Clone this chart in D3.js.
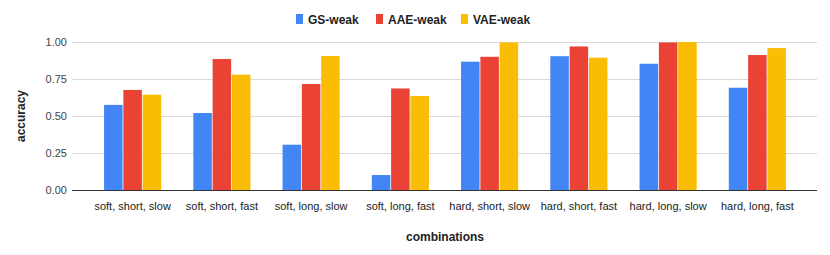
<!DOCTYPE html>
<html>
<head>
<meta charset="utf-8">
<script src="https://cdn.jsdelivr.net/npm/d3@7"></script>
<style>
  body { margin: 0; background: #fff; }
  text { font-family: "Liberation Sans", Arial, sans-serif; }
</style>
</head>
<body>
<svg id="chart" width="830" height="255"></svg>
<script>
// data
var categories = ["soft, short, slow", "soft, short, fast", "soft, long, slow", "soft, long, fast",
                  "hard, short, slow", "hard, short, fast", "hard, long, slow", "hard, long, fast"];
var seriesNames = ["GS-weak", "AAE-weak", "VAE-weak"];
var gsWeak  = [0.575, 0.52, 0.306, 0.101, 0.867, 0.904, 0.853, 0.691];
var aaeWeak = [0.676, 0.885, 0.716, 0.686, 0.90, 0.970, 0.997, 0.912];
var vaeWeak = [0.644, 0.779, 0.905, 0.635, 0.997, 0.894, 1.0, 0.959];
var yTicks = [0, 0.25, 0.5, 0.75, 1.0];
var colors = ["#4285F4", "#EA4335", "#FBBC04"];

var series = [gsWeak, aaeWeak, vaeWeak];
var svg = d3.select("#chart");

var plotTop = 42, plotBottom = 190, gridLeft = 72, gridRight = 817;

var x0 = d3.scaleBand().domain(categories).range([88, 802]).paddingInner(0.36).paddingOuter(0.18);
var x1 = d3.scaleBand().domain(d3.range(3)).range([0, x0.bandwidth()]).paddingInner(0.04);
var y = d3.scaleLinear().domain([0, 1]).range([plotBottom, plotTop]);

// gridlines
svg.append("g").selectAll("line").data(yTicks.filter(function(d){ return d > 0; })).join("line")
  .attr("x1", gridLeft).attr("x2", gridRight)
  .attr("y1", function(d){ return Math.round(y(d)) + 0.5; })
  .attr("y2", function(d){ return Math.round(y(d)) + 0.5; })
  .attr("stroke", "#d9d9d9").attr("stroke-width", 1);

// y axis labels
var yAxis = d3.axisLeft(y).tickValues(yTicks).tickFormat(d3.format(".2f")).tickSize(0).tickPadding(0);
var ya = svg.append("g").attr("transform", "translate(67,0)").call(yAxis);
ya.select(".domain").remove();
ya.selectAll("text").attr("font-size", 11).attr("fill", "#444");

// bars
var groups = svg.append("g").selectAll("g").data(categories).join("g")
  .attr("transform", function(d){ return "translate(" + x0(d) + ",0)"; });
groups.selectAll("rect").data(function(d, i){ return series.map(function(s, j){ return {j: j, v: s[i]}; }); })
  .join("rect")
  .attr("x", function(d){ return x1(d.j); })
  .attr("width", x1.bandwidth())
  .attr("y", function(d){ return y(d.v); })
  .attr("height", function(d){ return plotBottom - y(d.v); })
  .attr("fill", function(d){ return colors[d.j]; });

// baseline
svg.append("line").attr("x1", gridLeft).attr("x2", gridRight)
  .attr("y1", plotBottom + 0.5).attr("y2", plotBottom + 0.5)
  .attr("stroke", "#333").attr("stroke-width", 1);

// x axis labels
var xAxis = d3.axisBottom(x0).tickSize(0).tickPadding(0);
var xa = svg.append("g").attr("transform", "translate(0," + (plotBottom + 12) + ")").call(xAxis);
xa.select(".domain").remove();
xa.selectAll("text").attr("font-size", 11).attr("fill", "#222");

// axis titles
svg.append("text").attr("x", 445).attr("y", 241).attr("text-anchor", "middle")
  .attr("font-size", 12).attr("font-weight", "bold").attr("fill", "#222").text("combinations");
svg.append("text").attr("transform", "translate(25,116) rotate(-90)").attr("text-anchor", "middle")
  .attr("font-size", 12).attr("font-weight", "bold").attr("fill", "#222").text("accuracy");

// legend
var legendX = [296, 376, 461];
var lg = svg.append("g").selectAll("g").data(seriesNames).join("g")
  .attr("transform", function(d, i){ return "translate(" + legendX[i] + ",14)"; });
lg.append("rect").attr("width", 7).attr("height", 10).attr("y", 0).attr("fill", function(d, i){ return colors[i]; });
lg.append("text").attr("x", 12).attr("y", 9.5).attr("font-size", 12).attr("font-weight", "bold")
  .attr("fill", "#222").text(function(d){ return d; });
</script>
</body>
</html>
